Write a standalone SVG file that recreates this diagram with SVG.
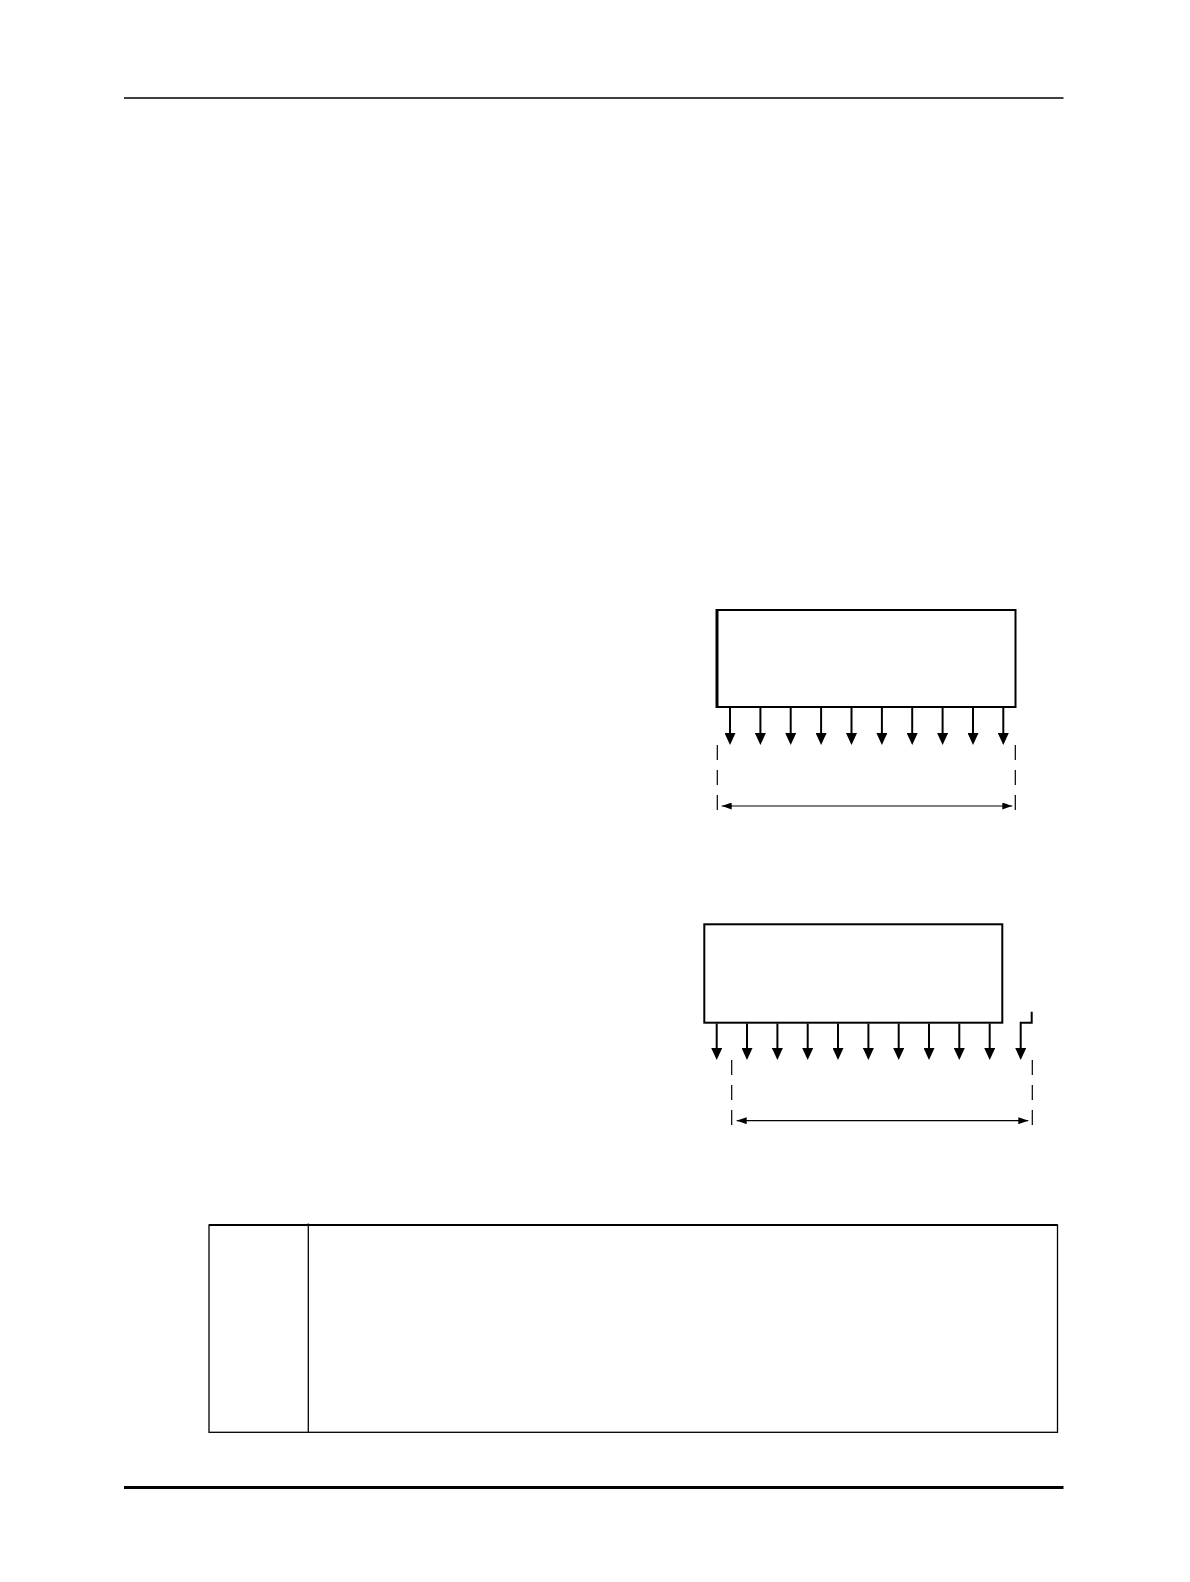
<svg xmlns="http://www.w3.org/2000/svg" width="1190" height="1582" viewBox="0 0 1190 1582">
<defs>
<style>
.ln{stroke:#000;fill:none}
.box{stroke:#000;stroke-width:2;fill:#fff}
.pin{stroke:#000;stroke-width:2;fill:none;marker-end:url(#ah)}
.dash{stroke:#000;stroke-width:1.2;stroke-dasharray:15,10;fill:none}
.dim{stroke:#000;stroke-width:1.2;fill:none;marker-start:url(#dh);marker-end:url(#dh)}
</style>
<marker id="ah" viewBox="0 0 12 11" refX="0" refY="5.5" markerWidth="12" markerHeight="11" markerUnits="userSpaceOnUse" orient="auto">
<path d="M0,0 L12,5.5 L0,11 Z" fill="#000"/>
</marker>
<marker id="dh" viewBox="0 0 10 7" refX="10" refY="3.5" markerWidth="10" markerHeight="7" markerUnits="userSpaceOnUse" orient="auto-start-reverse">
<path d="M0,0 L10,3.5 L0,7 Z" fill="#000"/>
</marker>
</defs>
<rect width="1190" height="1582" fill="#fff"/>
<g id="rules">
<line class="ln" x1="124" y1="98" x2="1063.5" y2="98" stroke-width="1.4"/>
<line class="ln" x1="124" y1="1487.5" x2="1063.5" y2="1487.5" stroke-width="3"/>
</g>
<g id="package1">
<rect class="box" x="717" y="610" width="298.5" height="97"/>
<line class="ln" x1="717" y1="609" x2="717" y2="708" stroke-width="3"/>
</g>
<g id="package2">
<rect class="box" x="704.3" y="924.3" width="298" height="98.4"/>
</g>
<g id="table">
<rect x="209" y="1225" width="848.5" height="207.3" fill="none" stroke="#000" stroke-width="1.3"/>
<line class="ln" x1="209" y1="1225" x2="1057.5" y2="1225" stroke-width="1.8"/>
<line class="ln" x1="308.3" y1="1223.5" x2="308.3" y2="1432.3" stroke-width="1.3"/>
</g>
<g id="connectors">
<path class="pin" d="M730,708 V733"/>
<path class="pin" d="M760.4,708 V733"/>
<path class="pin" d="M790.7,708 V733"/>
<path class="pin" d="M821.1,708 V733"/>
<path class="pin" d="M851.5,708 V733"/>
<path class="pin" d="M881.9,708 V733"/>
<path class="pin" d="M912.2,708 V733"/>
<path class="pin" d="M942.6,708 V733"/>
<path class="pin" d="M973,708 V733"/>
<path class="pin" d="M1003.3,708 V733"/>
<line class="dash" x1="717.3" y1="745" x2="717.3" y2="810"/>
<line class="dash" x1="1015.3" y1="745" x2="1015.3" y2="810"/>
<line class="dim" x1="721.7" y1="806" x2="1012.3" y2="806"/>
<path class="pin" d="M716.7,1023.5 V1048"/>
<path class="pin" d="M747,1023.5 V1048"/>
<path class="pin" d="M777.4,1023.5 V1048"/>
<path class="pin" d="M807.7,1023.5 V1048"/>
<path class="pin" d="M838,1023.5 V1048"/>
<path class="pin" d="M868.4,1023.5 V1048"/>
<path class="pin" d="M898.7,1023.5 V1048"/>
<path class="pin" d="M929,1023.5 V1048"/>
<path class="pin" d="M959.3,1023.5 V1048"/>
<path class="pin" d="M989.7,1023.5 V1048"/>
<path class="pin" d="M1031.7,1011.7 V1022.7 H1020.7 V1048"/>
<line class="dash" x1="731.7" y1="1060" x2="731.7" y2="1125"/>
<line class="dash" x1="1032.3" y1="1060" x2="1032.3" y2="1125"/>
<line class="dim" x1="736.7" y1="1120.7" x2="1028.3" y2="1120.7"/>
</g>
</svg>
